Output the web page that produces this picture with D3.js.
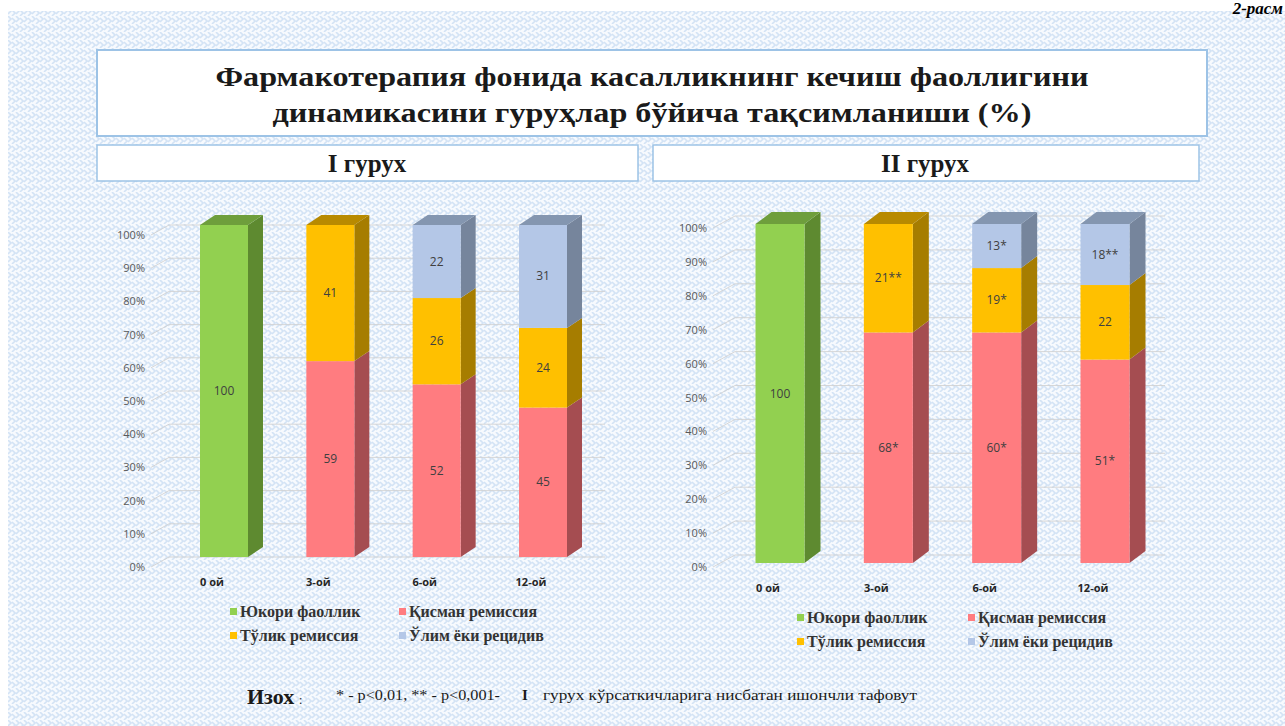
<!DOCTYPE html>
<html><head><meta charset="utf-8">
<script src="https://cdn.jsdelivr.net/npm/d3@7"></script>
<style>body{margin:0;background:#fff}svg{display:block}</style>
</head><body>
<svg id="c" width="1285" height="726"></svg>
<script>
// ---------- DATA ----------
const categories = ["0 ой", "3-ой", "6-ой", "12-ой"];
const tickLabels = ["0%","10%","20%","30%","40%","50%","60%","70%","80%","90%","100%"];
const tickValues = [0,10,20,30,40,50,60,70,80,90,100];
const seriesNames = ["Юкори фаоллик", "Қисман ремиссия", "Тўлик ремиссия", "Ўлим ёки рецидив"];

// Group I (heights; labels as printed)
const g1High    = [100, 0, 0, 0];
const g1Partial = [0, 59, 52, 45];
const g1Full    = [0, 41, 26, 24];
const g1Death   = [0, 0, 22, 31];
const g1HighLbl    = ["100", "", "", ""];
const g1PartialLbl = ["", "59", "52", "45"];
const g1FullLbl    = ["", "41", "26", "24"];
const g1DeathLbl   = ["", "", "22", "31"];

// Group II (drawn heights; printed labels differ)
const g2High    = [100, 0, 0, 0];
const g2Partial = [0, 68, 68, 60];
const g2Full    = [0, 32, 19, 22];
const g2Death   = [0, 0, 13, 18];
const g2HighLbl    = ["100", "", "", ""];
const g2PartialLbl = ["", "68*", "60*", "51*"];
const g2FullLbl    = ["", "21**", "19*", "22"];
const g2DeathLbl   = ["", "", "13*", "18**"];

const titleLines = ["Фармакотерапия фонида касалликнинг кечиш фаоллигини",
                    "динамикасини гуруҳлар бўйича тақсимланиши (%)"];
const groupTitles = ["I гурух", "II гурух"];
const noteHead = "Изох";
const noteP = "* - p<0,01, ** - p<0,001-";
const noteRest = "гурух кўрсаткичларига нисбатан ишончли тафовут";
const figLabel = "2-расм";

// ---------- STYLE ----------
const colors = {
  front: ["#92d050", "#ff7c80", "#ffc000", "#b4c7e7"],
  side:  ["#5e8a30", "#a54d51", "#a67d00", "#76859c"],
  top:   ["#6e9e3c", "#c0595d", "#b88a00", "#8496b0"]
};
const serif = "'Liberation Serif','Times New Roman',serif";
const sans = "'Open Sans','Liberation Sans',sans-serif";

const svg = d3.select("#c");
const defs = svg.append("defs");
const pat = defs.append("pattern").attr("id","weave").attr("patternUnits","userSpaceOnUse")
  .attr("width",8).attr("height",8);
pat.append("rect").attr("width",8).attr("height",8).attr("fill","#f7fafe");
pat.append("path").attr("d","M0,0 L3,3 L0,6 M4,2 L7,5 L4,8 M8,0 L11,3 L8,6")
  .attr("fill","none").attr("stroke","#d3e3f5").attr("stroke-width",1.6);

svg.append("rect").attr("x",8).attr("y",11).attr("width",1277).attr("height",715)
  .attr("fill","url(#weave)");

// figure label
svg.append("text").attr("x",1283).attr("y",14).attr("text-anchor","end").attr("font-family",serif)
  .attr("font-weight","bold").attr("font-style","italic").attr("font-size",17)
  .attr("fill","#000").text(figLabel);

// title box
svg.append("rect").attr("x",97).attr("y",50).attr("width",1110).attr("height",86)
  .attr("fill","#fff").attr("stroke","#9dc3e6").attr("stroke-width",2);
const titleWidths = [873, 759];
titleLines.forEach((t,i)=>{
  svg.append("text").attr("x",652).attr("y",86+i*36).attr("text-anchor","middle")
    .attr("font-family",serif).attr("font-weight","bold").attr("font-size",28)
    .attr("fill","#1a1a1a").attr("textLength",titleWidths[i]).attr("lengthAdjust","spacingAndGlyphs")
    .text(t);
});

// group boxes
const gBoxes = [{x:97,w:541,cx:367},{x:653,w:546,cx:925}];
gBoxes.forEach((b,i)=>{
  svg.append("rect").attr("x",b.x).attr("y",145).attr("width",b.w).attr("height",36)
    .attr("fill","#fff").attr("stroke","#9dc3e6").attr("stroke-width",1.5);
  svg.append("text").attr("x",b.cx).attr("y",172).attr("text-anchor","middle")
    .attr("font-family",serif).attr("font-weight","bold").attr("font-size",25)
    .attr("fill","#1a1a1a").text(groupTitles[i]);
});

function drawChart(cfg, series, labels) {
  const g = svg.append("g");
  const y = d3.scaleLinear().domain([0,100]).range([cfg.yBottom, cfg.yTop]);
  const x = d3.scalePoint().domain(categories).range([cfg.xFirst, cfg.xLast]);

  // gridlines (3D)
  tickValues.forEach(v=>{
    const yy = y(v) + cfg.axisOff;
    g.append("path")
      .attr("d",`M${cfg.axisX+6},${yy} L${cfg.axisX+6+cfg.gdx},${yy-cfg.gdy} L${cfg.gridEnd},${yy-cfg.gdy}`)
      .attr("fill","none").attr("stroke","#d0d0d0").attr("stroke-width",1).attr("opacity",0.85);
  });

  // axis
  const axis = d3.axisLeft(y).tickValues(tickValues)
    .tickFormat((d,i)=>tickLabels[i]).tickSize(0).tickPadding(0);
  const ag = g.append("g").attr("transform",`translate(${cfg.axisX},${cfg.axisOff})`).call(axis);
  ag.select(".domain").remove();
  ag.selectAll("text").attr("font-family",sans).attr("font-size",11).attr("fill","#595959");

  // bars
  const bw = cfg.bw, dx = cfg.dx, dy = cfg.dy;
  categories.forEach((c,ci)=>{
    const x0 = x(c) - bw/2;
    let acc = 0;
    const segs = [];
    series.forEach((s,si)=>{ if (s[ci]>0){ segs.push({si, v0:acc, v1:acc+s[ci], lbl:labels[si][ci]}); acc += s[ci]; } });
    segs.forEach((sg,k)=>{
      const yt = y(sg.v1), yb = y(sg.v0);
      g.append("path").attr("d",`M${x0+bw},${yb} L${x0+bw+dx},${yb-dy} L${x0+bw+dx},${yt-dy} L${x0+bw},${yt} Z`)
        .attr("fill",colors.side[sg.si]);
      g.append("rect").attr("x",x0).attr("y",yt).attr("width",bw).attr("height",yb-yt)
        .attr("fill",colors.front[sg.si]);
      if (k===segs.length-1) {
        g.append("path").attr("d",`M${x0},${yt} L${x0+dx},${yt-dy} L${x0+bw+dx},${yt-dy} L${x0+bw},${yt} Z`)
          .attr("fill",colors.top[sg.si]);
      }
      g.append("text").attr("x",x0+bw/2).attr("y",(yt+yb)/2+4).attr("text-anchor","middle")
        .attr("font-family",sans).attr("font-size",12).attr("fill","#404040").text(sg.lbl);
    });
    g.append("text").attr("x",x(c)+cfg.catOff).attr("y",cfg.catY).attr("text-anchor","middle")
      .attr("font-family",sans).attr("font-weight","bold").attr("font-size",11).attr("fill","#262626").text(c);
  });

  // legend
  const lp = cfg.legend;
  [0,1,2,3].forEach((si,i)=>{
    const col = i%2, row = Math.floor(i/2);
    const lx = lp.x + col*lp.colW, ly = lp.y + row*lp.rowH;
    g.append("rect").attr("x",lx).attr("y",ly-9).attr("width",7).attr("height",7).attr("fill",colors.front[si]);
    g.append("text").attr("x",lx+10).attr("y",ly).attr("font-family",serif).attr("font-weight","bold")
      .attr("font-size",16).attr("fill","#333").text(seriesNames[si]);
  });
}

drawChart({yBottom:557,yTop:225,axisOff:10,axisX:145,xFirst:224,xLast:543,bw:48,dx:15,dy:10,
  gdx:18,gdy:10,gridEnd:605,catY:586,catOff:-12,legend:{x:230,y:617,colW:169,rowH:24}},
  [g1High,g1Partial,g1Full,g1Death],[g1HighLbl,g1PartialLbl,g1FullLbl,g1DeathLbl]);

drawChart({yBottom:563,yTop:224,axisOff:4,axisX:707,xFirst:780,xLast:1105,bw:49,dx:16,dy:12,
  gdx:22,gdy:12,gridEnd:1165,catY:592,catOff:-12,legend:{x:797,y:623,colW:171,rowH:24}},
  [g2High,g2Partial,g2Full,g2Death],[g2HighLbl,g2PartialLbl,g2FullLbl,g2DeathLbl]);

// footnote
svg.append("text").attr("x",247).attr("y",704).attr("font-family",serif).attr("font-weight","bold")
  .attr("font-size",22).attr("fill","#1a1a1a").text(noteHead);
svg.append("text").attr("x",299).attr("y",704).attr("font-family",serif)
  .attr("font-size",12).attr("fill","#1a1a1a").text(":");
svg.append("text").attr("x",336).attr("y",700).attr("font-family",serif)
  .attr("font-size",15.5).attr("fill","#1a1a1a")
  .attr("textLength",164).attr("lengthAdjust","spacingAndGlyphs").text(noteP);
svg.append("text").attr("x",522).attr("y",700).attr("font-family",serif).attr("font-weight","bold")
  .attr("font-size",15).attr("fill","#1a1a1a").text("I");
svg.append("text").attr("x",543).attr("y",700).attr("font-family",serif)
  .attr("font-size",15.5).attr("fill","#1a1a1a")
  .attr("textLength",374).attr("lengthAdjust","spacingAndGlyphs").text(noteRest);
</script>
</body></html>
